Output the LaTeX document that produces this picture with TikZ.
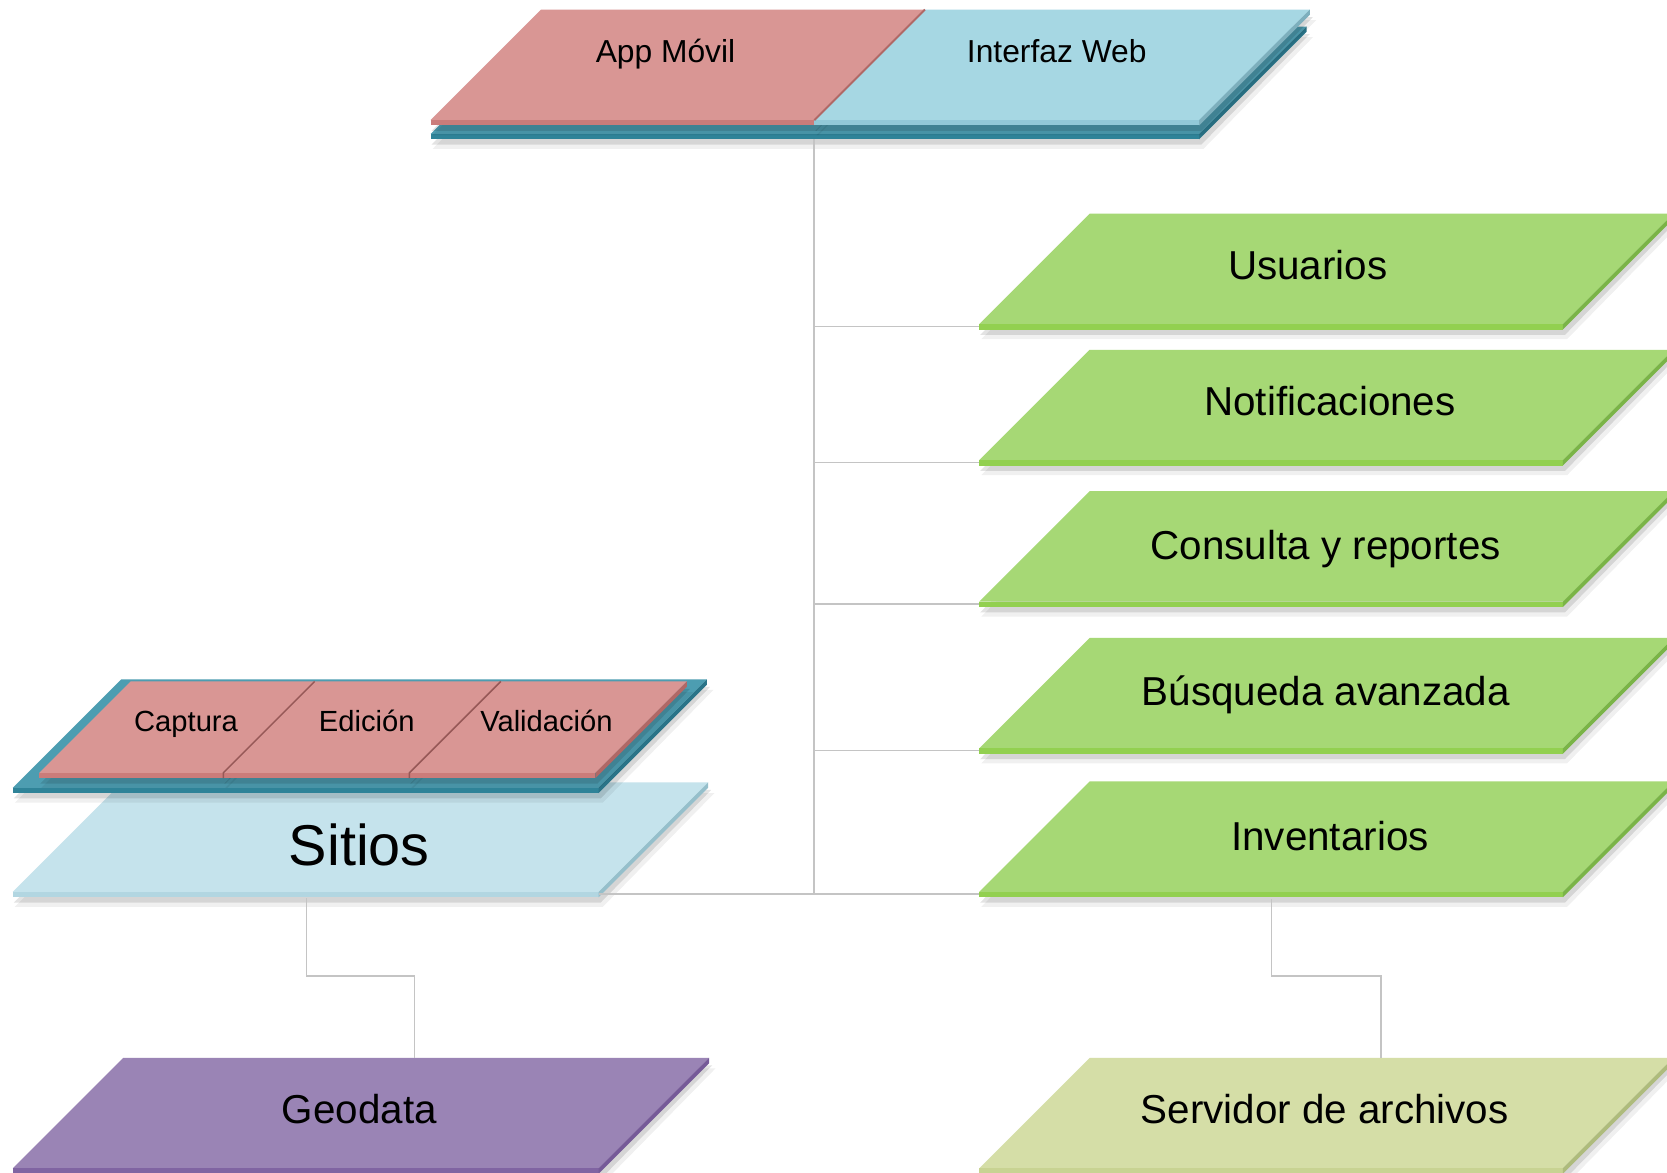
\documentclass[tikz,border=0pt]{standalone}
\usepackage{fontspec}
\setmainfont{Liberation Sans}
\definecolor{redF}{HTML}{D99694}
\definecolor{redE}{HTML}{CB7C7A}
\definecolor{redS}{HTML}{B06866}
\definecolor{blueF}{HTML}{A6D7E3}
\definecolor{blueE}{HTML}{92C9D8}
\definecolor{blueS}{HTML}{7DAFBD}
\definecolor{tealF}{HTML}{4D9DB1}
\definecolor{tealE}{HTML}{2F8398}
\definecolor{tealS}{HTML}{2A7488}
\definecolor{sitF}{HTML}{C5E3EC}
\definecolor{sitE}{HTML}{B2D6E1}
\definecolor{sitS}{HTML}{95BFCB}
\definecolor{grnF}{HTML}{A6D875}
\definecolor{grnE}{HTML}{92D050}
\definecolor{grnS}{HTML}{7AB447}
\definecolor{purF}{HTML}{9A84B5}
\definecolor{purE}{HTML}{8064A2}
\definecolor{purS}{HTML}{765A98}
\definecolor{srvF}{HTML}{D5DEA7}
\definecolor{srvE}{HTML}{C8D392}
\definecolor{srvS}{HTML}{AEBB7C}
\definecolor{conn}{HTML}{C4C4C4}
\newcommand{\slab}[8]{%
  \pgfmathsetmacro\slabh{#4-#3}%
  \pgfmathsetmacro\slabxr{#2+#5}%
  \fill[black,opacity=0.06] (#2+2,#4+14) -- (#2+\slabh+4,#3+10) -- (\slabxr+\slabh+6,#3+10) -- (\slabxr+4,#4+14) -- cycle;
  \fill[black,opacity=0.11] (#2+1,#4+10) -- (#2+\slabh+2,#3+7) -- (\slabxr+\slabh+3,#3+7) -- (\slabxr+2,#4+10) -- cycle;
  \fill[#6] (#2,#4) -- (#2+\slabh,#3) -- (\slabxr+\slabh,#3) -- (\slabxr,#4) -- cycle;
  \fill[#7] (#2,#4) rectangle (\slabxr,#4+5);
  \fill[#8] (\slabxr,#4) -- (\slabxr+\slabh,#3) -- (\slabxr+\slabh,#3+5) -- (\slabxr,#4+5) -- cycle;
  \coordinate (#1-bl) at (#2,#4+2);
  \coordinate (#1-br) at (\slabxr,#4+2);
}
\tikzset{
  lblS/.style={inner sep=0pt, anchor=base, font=\fontsize{7.8}{9}\selectfont},
  lblT/.style={inner sep=0pt, anchor=base, font=\fontsize{8.5}{10}\selectfont},
  lblM/.style={inner sep=0pt, anchor=base, font=\fontsize{10.8}{13}\selectfont},
  lblL/.style={inner sep=0pt, anchor=base, font=\fontsize{15.4}{18}\selectfont},
  wire/.style={draw=conn, line width=0.35pt},
  trunk/.style={draw=conn, line width=0.55pt},
  divider/.style={draw=redS!85!black, line width=0.4pt}
}
\begin{document}
\begin{tikzpicture}[x=0.01cm,y=-0.01cm]
\useasboundingbox (0,0) rectangle (1568,1103);
\clip (0,0) rectangle (1568,1103);
\fill[white] (0,0) rectangle (1568,1103);

% top group
\slab{tealtop}{405}{25}{126}{723}{tealF}{tealE}{tealS}
\slab{app}{405}{9}{113}{361}{redF}{redE}{redS}
\slab{web}{766}{9}{113}{362}{blueF}{blueE}{blueS}
\draw[redS, line width=0.5pt] (766,113) -- (870,9);
\node[lblT] (appt) at (626,59) {App Móvil};
\node[lblT] (webt) at (994,59) {Interfaz Web};
\coordinate (top-b) at (766,131);

% green modules
\slab{usu}{921}{201}{305}{549}{grnF}{grnE}{grnS}
\slab{not}{921}{329}{433}{549}{grnF}{grnE}{grnS}
\slab{con}{921}{462}{566}{549}{grnF}{grnE}{grnS}
\slab{bus}{921}{600}{704}{549}{grnF}{grnE}{grnS}
\slab{inv}{921}{735}{839}{549}{grnF}{grnE}{grnS}
\slab{srv}{921}{995}{1099}{549}{srvF}{srvE}{srvS}
\node[lblM] (usut) at (1230,263) {Usuarios};
\node[lblM] (nott) at (1251,391) {Notificaciones};
\node[lblM] (cont) at (1247,526) {Consulta y reportes};
\node[lblM] (bust) at (1247,664) {Búsqueda avanzada};
\node[lblM] (invt) at (1251,800) {Inventarios};
\node[lblM] (srvt) at (1246,1057) {Servidor de archivos};

% left group
\slab{sit}{12}{736}{839}{551}{sitF}{sitE}{sitS}
\slab{tealleft}{12}{639}{741}{551}{tealF}{tealE}{tealS}
\slab{cap}{37}{641}{727}{173}{redF}{redE}{redS}
\slab{edi}{210}{641}{727}{175}{redF}{redE}{redS}
\slab{val}{385}{641}{727}{175}{redF}{redE}{redS}
\draw[divider] (210,732) -- (210,727) -- (296,641);
\draw[divider] (385,732) -- (385,727) -- (471,641);
\node[lblS] (capt) at (175,688) {Captura};
\node[lblS] (edit) at (345,688) {Edición};
\node[lblS] (valt) at (514,688) {Validación};
\node[lblL] (sitt) at (338,814) {Sitios};
\slab{geo}{12}{995}{1099}{551}{purF}{purE}{purS}
\node[lblM] (geot) at (338,1057) {Geodata};

% connector lines
\coordinate (trunkend) at (sit-br -| top-b);
\draw[trunk] (top-b) -- (trunkend);
\draw[wire] (usu-bl -| top-b) -- (usu-bl);
\draw[wire] (not-bl -| top-b) -- (not-bl);
\draw[wire] (con-bl -| top-b) -- (con-bl);
\draw[wire] (bus-bl -| top-b) -- (bus-bl);
\draw[wire] (sit-br) -- (inv-bl);
\coordinate (sitdown) at (288,845);
\coordinate (geoup) at (390,995);
\draw[wire] (sitdown) |- (339,918) -| (geoup);
\coordinate (invdown) at (1196,846);
\coordinate (srvup) at (1299,995);
\draw[wire] (invdown) |- (1247,918) -| (srvup);
\end{tikzpicture}
\end{document}
